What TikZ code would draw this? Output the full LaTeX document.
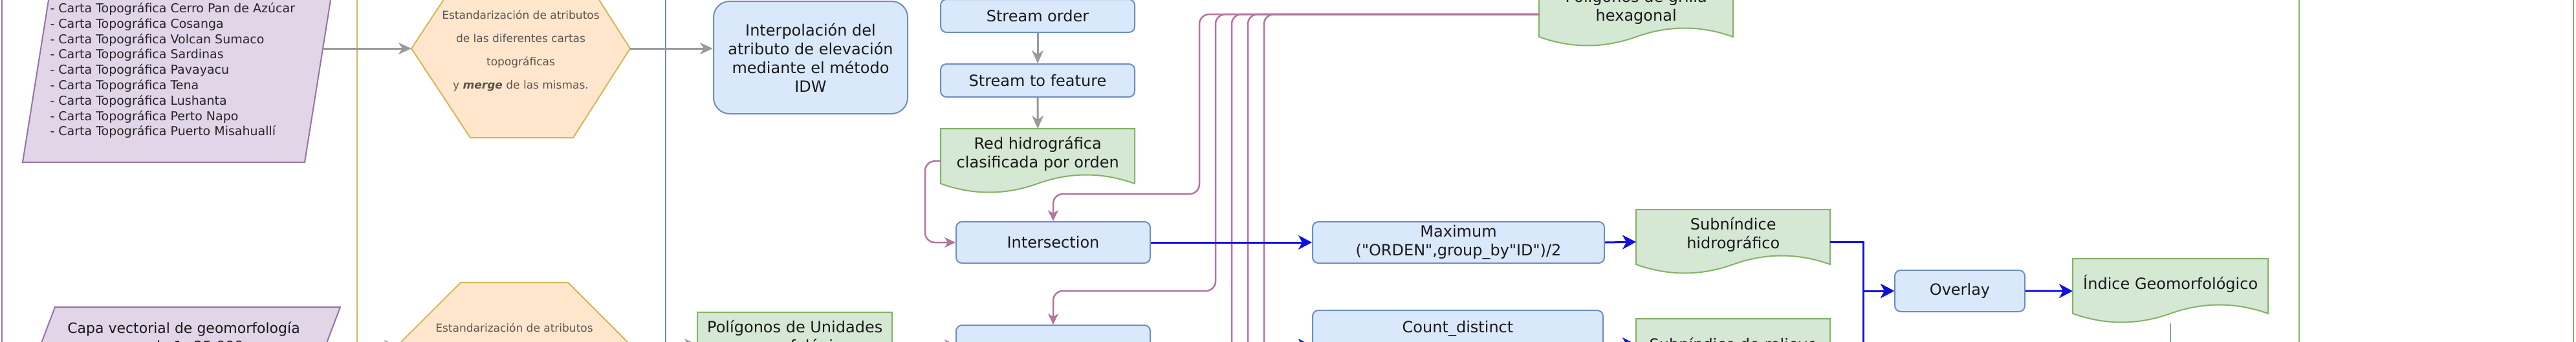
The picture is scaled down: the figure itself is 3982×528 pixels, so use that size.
\documentclass[tikz,border=0pt]{standalone}
\usepackage{fontspec}
\setmainfont{DejaVu Sans}
\newfontfamily\rawquote{DejaVu Sans}
\usetikzlibrary{arrows.meta}

\definecolor{bluefill}{HTML}{DAE8FC}
\definecolor{blueline}{HTML}{6C8EBF}
\definecolor{greenfill}{HTML}{D5E8D4}
\definecolor{greenline}{HTML}{82B366}
\definecolor{purplefill}{HTML}{E1D5E7}
\definecolor{purpleline}{HTML}{9673A6}
\definecolor{orangefill}{HTML}{FFE6CC}
\definecolor{goldline}{HTML}{D6B656}
\definecolor{pinkline}{HTML}{B5739D}
\definecolor{arrowgray}{HTML}{9A9A9A}
\definecolor{flowblue}{HTML}{1111DD}
\definecolor{textgray}{HTML}{5A5550}
\definecolor{outgray}{HTML}{6E8C96}

\newcommand{\mainsize}{\fontsize{24}{29}\selectfont}
\newcommand{\listsize}{\fontsize{19}{23.8}\selectfont}
\newcommand{\hexsize}{\fontsize{17}{36}\selectfont}
\newcommand{\capasize}{\fontsize{22}{28}\selectfont}

\tikzset{
  procbox/.style={draw=blueline, fill=bluefill, line width=2pt, rounded corners=9pt,
    font=\mainsize, text=black!90, align=center, inner sep=0pt},
  docline/.style={draw=greenline, fill=greenfill, line width=2pt},
  docframe/.style={inner sep=0pt, anchor=north west},
  txt/.style={font=\mainsize, text=black!90, align=center},
  inshape/.style={draw=purpleline, fill=purplefill, line width=2pt},
  hexshape/.style={draw=goldline, fill=orangefill, line width=2pt},
  lane/.style={line width=2pt},
  grayarrow/.style={draw=arrowgray, line width=3pt, -{Stealth[length=20pt,width=18pt,inset=6pt]}},
  pinkarrow/.style={draw=pinkline, line width=2.5pt, rounded corners=15pt,
    -{Stealth[length=17pt,width=16pt,inset=5pt]}},
  pinkwire/.style={draw=pinkline, line width=2.5pt, rounded corners=15pt},
  bluearrow/.style={draw=flowblue, line width=3pt, -{Stealth[length=21pt,width=22pt,inset=6pt]}},
}

% wavy data box: name, left, top, width, height, text
\newcommand{\databox}[6]{%
  \draw[docline, shift={(#2,#3)}, x=#4pt, y=-#5pt]
    (0,0) -- (1,0) -- (1,0.85)
    .. controls (0.833,0.67) and (0.667,0.67) .. (0.5,0.85)
    .. controls (0.333,1.03) and (0.167,1.03) .. (0,0.85) -- cycle;
  \node[docframe, minimum width=#4pt, minimum height=#5pt] (#1) at (#2,#3) {};
  \path (#1.north) ++(0,0.39*#5) node[txt] {#6};
}

\begin{document}
\begin{tikzpicture}[x=1pt,y=-1pt]
\clip (0,0) rectangle (3982,528);
\fill[white] (0,0) rectangle (3982,528);

% lanes
\draw[lane, purpleline] (3,-10) -- (3,540);
\draw[lane, goldline] (552,-10) -- (552,540);
\draw[lane, blueline] (1029,-10) -- (1029,540);
\draw[lane, greenline] (3554,-10) -- (3554,540);
\draw[lane, greenline] (3978,-10) -- (3978,540);

% input layers
\draw[inshape] (35,251) -- (471,251) -- (520.6,-60) -- (84.6,-60) -- cycle;
\node[font=\listsize, align=left, anchor=west, text=black!85] (cartas) at (74,109)
  {- Carta Topográfica Cerro Pan de Azúcar\\
   - Carta Topográfica Cosanga\\
   - Carta Topográfica Volcan Sumaco\\
   - Carta Topográfica Sardinas\\
   - Carta Topográfica Pavayacu\\
   - Carta Topográfica Tena\\
   - Carta Topográfica Lushanta\\
   - Carta Topográfica Perto Napo\\
   - Carta Topográfica Puerto Misahuallí};
\coordinate (cartasOut) at (499,75);

\draw[inshape] (85,475) -- (526,475) -- (478.5,600) -- (37.5,600) -- cycle;
\node[font=\capasize, text=black!90, align=center] (capa) at (284,521)
  {Capa vectorial de geomorfología\\escala 1: 25 000};
\coordinate (capaOut) at (503,535);

% standardisation
\coordinate (hexL) at (636,75);
\coordinate (hexR) at (974,75);
\draw[hexshape] (hexL) -- (727,-63) -- (886,-63) -- (hexR) -- (886,213) -- (727,213) -- cycle;
\node[font=\hexsize, text=textgray, align=center] (hexT) at (805,79)
  {Estandarización de atributos\\de las diferentes cartas\\topográficas\\y \textbf{\textit{merge}} de las mismas.};

\coordinate (hexbL) at (602,547);
\coordinate (hexbR) at (988,547);
\draw[hexshape] (hexbL) -- (712,437) -- (878,437) -- (hexbR) -- (878,657) -- (712,657) -- cycle;
\node[font=\hexsize, text=textgray] (hexbT) at (795,507) {Estandarización de atributos};
\coordinate (hexbIn) at (614,535);
\coordinate (hexbOut) at (974,533);

% processes
\node[procbox, rounded corners=25pt, minimum width=300pt, minimum height=174pt] (interp) at (1253,89)
  {Interpolación del\\atributo de elevación\\mediante el método\\IDW};
\node[procbox, minimum width=300pt, minimum height=51pt] (sorder) at (1604,24.5) {Stream order};
\node[procbox, minimum width=300pt, minimum height=51pt] (sfeat) at (1604,124.5) {Stream to feature};
\databox{red}{1454}{199}{300}{100}{Red hidrográfica\\clasificada por orden}
\databox{poliU}{1078}{483}{301}{100}{Polígonos de Unidades\\geomorfológicas}
\node[procbox, minimum width=300pt, minimum height=64pt] (inter) at (1628,375) {Intersection};
\node[procbox, minimum width=300pt, minimum height=64pt] (geoproc) at (1628,535) {};
\databox{grilla}{2379}{-28}{300}{100}{Polígonos de grilla\\hexagonal}
\node[procbox, minimum width=451pt, minimum height=64pt] (maxim) at (2254.5,375)
  {Maximum\\{\rawquote ("ORDEN",group\_by"ID")/2}};
\node[procbox, minimum width=449pt, minimum height=106pt] (count) at (2253.5,533) {};
\node[txt] (countT) at (2253.5,508) {Count\_distinct};
\databox{subH}{2529}{324}{300}{100}{Subníndice\\hidrográfico}
\databox{subR}{2529}{493}{300}{100}{Subníndice de relieve}
\node[procbox, minimum width=201pt, minimum height=64pt] (overlay) at (3029.5,450) {Overlay};
\databox{indice}{3204}{400}{302}{100}{Índice Geomorfológico}

% gray flow
\draw[grayarrow] (cartasOut) -- (hexL);
\draw[grayarrow] (hexR) -- (hexR -| interp.west);
\draw[grayarrow] (sorder.south) -- (sfeat.north);
\draw[grayarrow] (sfeat.south) -- (red.north);
\draw[grayarrow] (capaOut) -- (hexbIn);
\draw[grayarrow] (hexbOut) -- (hexbOut -| poliU.west);

% pink flow
\coordinate (down3) at (1904,560);
\coordinate (down4) at (1929,560);
\coordinate (down5) at (1954,560);
\draw[pinkarrow] (red.west) -- ++(-24,0) |- (inter.west);
\draw[pinkwire] (grilla.west) -| (down5);
\draw[pinkwire] (grilla.west) -| (down4);
\draw[pinkwire] (grilla.west) -| (down3);
\draw[pinkarrow] (grilla.west) -| (1879,450) -| (geoproc.north);
\draw[pinkarrow] (grilla.west) -| (1854,300) -| (inter.north);
\draw[pinkarrow] (poliU.east) -- (poliU.east -| geoproc.west);

% blue flow
\draw[bluearrow] (inter.east) -- (maxim.west);
\draw[bluearrow] (maxim.east) -- (subH.west);
\draw[bluearrow] (geoproc.east) -- (geoproc.east -| count.west);
\draw[bluearrow] (count.east) -- (count.east -| subR.west);
\draw[bluearrow] (subH.east) -- ++(51,0) |- (overlay.west);
\draw[bluearrow] (subR.east) -- ++(51,0) |- (overlay.west);
\draw[bluearrow] (overlay.east) -- (indice.west);

\coordinate (outEnd) at (3355,560);
\draw[draw=outgray, line width=1.2pt] (indice.south) -- (outEnd);
\end{tikzpicture}
\end{document}
